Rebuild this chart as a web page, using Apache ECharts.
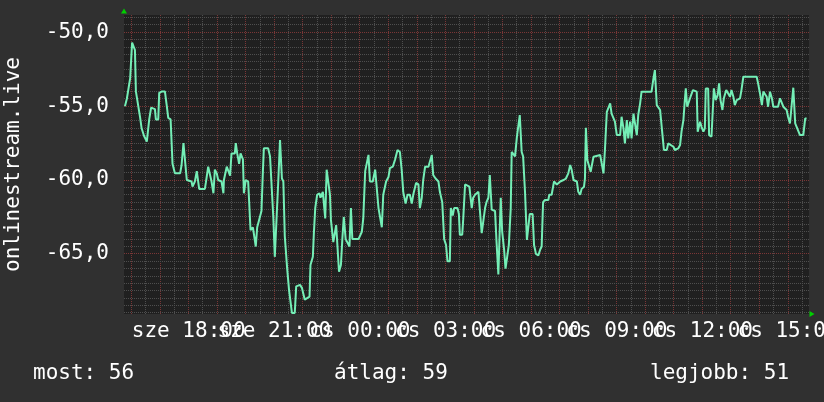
<!DOCTYPE html>
<html><head><meta charset="utf-8">
<script src="https://cdn.jsdelivr.net/npm/echarts@6/dist/echarts.min.js"></script>
<style>html,body{margin:0;padding:0;background:#303030}#c{width:824px;height:402px}</style>
</head><body><div id="c"></div>
<script>
// minutes since the start of the window (sze 15:44)
const times = [
2,6,9,13,17,21,23,25,29,34,
37,42,48,53,57,61,65,67,72,74,
80,86,90,93,98,102,107,118,121,125,
128,132,135,142,144,149,153,156,158,170,
172,177,181,184,188,191,195,198,205,209,
210,216,219,223,226,233,235,238,242,245,
250,252,256,261,266,271,275,277,280,284,
289,292,294,303,307,310,314,317,321,324,
328,332,335,338,343,347,353,359,362,366,
370,374,377,380,385,390,392,397,399,402,
406,411,413,418,423,426,429,433,435,440,
446,448,452,456,459,462,466,470,474,477,
480,493,496,500,503,507,510,514,517,523,
528,531,535,538,542,545,551,556,559,565,
570,575,580,584,587,592,596,601,605,608,
614,619,622,626,629,633,640,643,647,650,
655,661,664,669,673,677,680,685,687,691,
694,701,704,706,711,713,717,720,726,731,
734,738,741,745,748,752,755,759,762,766,
769,773,776,780,783,787,789,792,795,799,
802,806,809,813,815,818,822,826,829,832,
836,839,843,847,850,853,859,862,866,871,
875,878,881,885,892,894,899,904,910,913,
917,924,929,934,938,941,945,952,955,959,
962,967,969,971,974,978,981,984,987,1001,
1004,1008,1011,1015,1018,1022,1025,1029,1032,1036,
1043,1046,1050,1053,1057,1060,1064,1067,1071,1074,
1078,1081,1085,1088,1109,1113,1116,1120,1123,1127,
1130,1132,1135,1141,1144,1155,1158,1162,1165,1169,
1172,1176,1179,1181,1184,1188,1191,1196,1204,1206,
1209,1211,1214,1218,1221,1223,1228,1230,1235,1239,
1240,1244,1248,1251,1254,1258,1261,1266,1270,1274,
1277,1281,1284,1288,1295,1298,1302,1330,1333,1337,
1341,1344,1347,1351,1354,1358,1362,1365,1375,1379,
1383,1386,1390,1393,1396,1400,1404,1407,1411,1414,
1418,1421,1428,1432,1435
];
const values = [
-55.0,-54.5,-54.4,-53.1,-50.7,-50.7,-51.2,-54.0,-54.0,-55.8,
-56.5,-57.0,-57.4,-55.9,-55.1,-55.1,-55.2,-55.9,-55.9,-54.1,
-54.0,-54.0,-55.0,-55.8,-55.9,-58.9,-59.55,-59.55,-59.0,-57.5,
-57.5,-60.0,-60.1,-60.1,-60.45,-60.1,-59.4,-59.4,-60.6,-60.6,
-60.2,-59.1,-59.1,-60.1,-60.9,-59.3,-59.55,-60.0,-60.1,-60.9,
-60.0,-59.1,-59.0,-59.7,-58.2,-58.2,-57.5,-58.2,-58.9,-58.2,
-58.6,-60.9,-60.0,-60.1,-63.4,-63.2,-63.2,-64.5,-63.2,-63.3,
-62.1,-59.4,-57.85,-57.85,-58.4,-58.4,-62.6,-65.2,-62.4,-60.3,
-57.3,-59.9,-60.1,-63.8,-66.0,-67.45,-69.0,-69.0,-67.2,-67.2,
-67.1,-67.3,-67.3,-68.1,-68.0,-67.9,-65.75,-65.2,-63.7,-61.9,
-61.0,-60.9,-61.2,-60.8,-62.6,-59.3,-59.3,-61.0,-62.7,-64.2,
-63.05,-63.05,-66.2,-65.75,-64.0,-62.5,-64.0,-64.0,-64.5,-61.9,
-64.0,-64.0,-64.1,-63.5,-62.6,-59.4,-59.3,-58.3,-60.1,-60.1,
-59.3,-59.2,-61.9,-62.0,-63.2,-61.0,-60.1,-59.8,-59.2,-59.1,
-58.6,-57.97,-58.1,-59.4,-60.8,-61.6,-61.0,-61.0,-61.6,-61.0,
-60.2,-60.3,-61.9,-61.2,-60.0,-59.1,-59.1,-59.0,-58.3,-59.66,
-59.9,-60.1,-60.8,-61.5,-64.0,-64.4,-65.5,-65.5,-61.9,-62.4,
-61.9,-61.9,-62.3,-63.7,-63.7,-62.7,-60.3,-60.3,-60.45,-61.9,
-61.2,-61.0,-61.1,-60.8,-60.8,-63.6,-63.6,-61.9,-61.5,-61.2,
-59.66,-62.0,-62.0,-62.1,-64.1,-66.4,-66.4,-61.2,-63.5,-64.7,
-66.0,-66.0,-64.4,-61.9,-58.1,-58.0,-58.4,-57.06,-56.95,-55.6,
-58.1,-58.4,-60.8,-64.06,-64.0,-62.3,-62.3,-64.4,-65.0,-65.1,
-64.7,-64.5,-61.5,-61.35,-61.35,-61.0,-61.0,-60.1,-60.3,-60.2,
-60.1,-60.0,-59.9,-59.55,-58.99,-59.3,-60.0,-60.1,-60.8,-61.0,
-60.6,-60.45,-59.9,-56.46,-58.65,-58.76,-59.44,-59.44,-58.42,-58.31,
-58.4,-59.55,-57.97,-55.38,-55.3,-54.81,-55.5,-55.6,-56.05,-56.96,
-56.96,-55.72,-56.5,-57.52,-55.94,-57.18,-56.05,-57.18,-55.5,-55.5,
-56.96,-55.6,-54.81,-54.02,-54.02,-53.12,-52.56,-54.93,-55.04,-55.26,
-55.38,-56.96,-57.97,-57.97,-57.52,-57.75,-57.97,-58.08,-57.86,-57.63,
-56.73,-55.94,-54.59,-53.8,-55.04,-55.04,-54.36,-53.91,-54.02,-56.73,
-56.84,-56.05,-56.4,-56.73,-56.5,-53.8,-53.8,-56.96,-57.07,-56.96,
-53.8,-54.59,-54.25,-53.46,-54.59,-55.26,-54.47,-53.91,-54.02,-54.36,
-53.91,-54.36,-54.93,-54.59,-54.47,-53.91,-53.01,-53.01,-53.46,-54.14,
-54.93,-54.02,-54.14,-54.36,-55.04,-54.02,-54.47,-55.04,-55.04,-54.47,
-54.47,-55.04,-55.04,-55.26,-55.72,-56.17,-56.05,-53.75,-56.17,-56.4,
-56.4,-56.96,-56.96,-55.83,-55.83
];
const tickLabels = ['sze 18:00','sze 21:00','cs 00:00','cs 03:00','cs 06:00','cs 09:00','cs 12:00','cs 15:00'];
const tickTimes = [136,316,496,676,856,1036,1216,1396];
const yLabelValues = [-65,-60,-55,-50];
const legendTexts = ['most: 56','átlag: 59','legjobb: 51'];
const yName = 'onlinestream.live';

const FONT = 'DejaVu Sans Mono';
const X_MIN = 0, X_MAX = 1440, Y_MIN = -69.07, Y_MAX = -48.83;
const hourLines = []; for (let t = 16; t <= X_MAX; t += 60) hourLines.push(t);
const halfLines = []; for (let t = 46; t <= X_MAX; t += 60) halfLines.push(t);
const yMinor = []; for (let v = -69; v <= -49; v += 0.5) if (v % 5 !== 0) yMinor.push(v);
const labelsEven = tickTimes.filter((t, i) => i % 2 === 0);
const labelsOdd = tickTimes.filter((t, i) => i % 2 === 1);

const RED = '#7a3636', GREY = '#4e4e4e', ARROW = '#00d000';
const labelFmt = (v) => { const i = tickTimes.indexOf(v); return i >= 0 ? tickLabels[i] : ''; };
const xLabel = (vals) => ({ show: true, customValues: vals, margin: 7, hideOverlap: false,
  showMinLabel: true, showMaxLabel: true, color: '#ffffff', fontFamily: FONT, fontSize: 21, formatter: labelFmt });

// grid lines: [value, isMajor]
const vGridData = halfLines.map((t) => [t, 0]).concat(hourLines.map((t) => [t, 1]));
const hGridData = yMinor.map((v) => [v, 0]).concat(yLabelValues.map((v) => [v, 1]));
const gridStyle = (major) => ({ stroke: major ? RED : GREY, lineWidth: 1, lineDash: [1, 1], fill: null });

const chart = echarts.init(document.getElementById('c'), null, { renderer: 'canvas' });
chart.setOption({
  animation: false,
  backgroundColor: '#303030',
  grid: { left: 124, right: 15, top: 15, bottom: 88, show: true, backgroundColor: '#202020', borderWidth: 0, containLabel: false, outerBoundsMode: 'none' },
  title: legendTexts.map((t, i) => ({
    text: t, left: [33, 334, 650][i], top: 363, padding: 0,
    textStyle: { color: '#ffffff', fontFamily: FONT, fontSize: 21, fontWeight: 'normal', lineHeight: 21 }
  })),
  xAxis: [
    { type: 'value', min: X_MIN, max: X_MAX, position: 'bottom',
      axisLine: { show: false }, axisTick: { show: false }, splitLine: { show: false },
      axisLabel: xLabel(labelsEven) },
    { type: 'value', min: X_MIN, max: X_MAX, position: 'bottom',
      axisLine: { show: true, symbol: ['none', 'triangle'], symbolSize: [6, 5], symbolOffset: [0, 3], lineStyle: { color: ARROW, width: 0 } },
      axisTick: { show: false }, splitLine: { show: false },
      axisLabel: xLabel(labelsOdd) }
  ],
  yAxis: [
    { type: 'value', min: Y_MIN, max: Y_MAX, position: 'left',
      name: yName, nameLocation: 'middle', nameGap: 100, nameMoveOverlap: false,
      nameTextStyle: { color: '#ffffff', fontFamily: FONT, fontSize: 21 },
      axisLine: { show: false }, axisTick: { show: false }, splitLine: { show: false },
      axisLabel: { show: true, customValues: yLabelValues, margin: 15, color: '#ffffff', fontFamily: FONT, fontSize: 21,
        showMinLabel: true, showMaxLabel: true,
        formatter: (v) => v.toFixed(1).replace('.', ',') } },
    { type: 'value', min: Y_MIN, max: Y_MAX, position: 'left',
      axisLine: { show: true, symbol: ['none', 'triangle'], symbolSize: [6, 5], symbolOffset: [0, 4], lineStyle: { color: ARROW, width: 0 } },
      axisTick: { show: false }, splitLine: { show: false },
      axisLabel: { show: false } }
  ],
  series: [
    { type: 'custom', xAxisIndex: 0, yAxisIndex: 0, silent: true, z: 1,
      data: vGridData, encode: { x: 0 },
      renderItem: (params, api) => {
        const v = api.value(0), major = api.value(1);
        const a = api.coord([v, Y_MIN]), b = api.coord([v, Y_MAX]);
        const x = Math.floor(a[0]) + 0.5;
        return { type: 'line', shape: { x1: x, y1: a[1], x2: x, y2: b[1] }, style: gridStyle(major), silent: true };
      } },
    { type: 'custom', xAxisIndex: 0, yAxisIndex: 0, silent: true, z: 1,
      data: hGridData.map((d) => [X_MIN, d[0], d[1]]), encode: { x: 0, y: 1 },
      renderItem: (params, api) => {
        const v = api.value(1), major = api.value(2);
        const a = api.coord([X_MIN, v]), b = api.coord([X_MAX, v]);
        const y = Math.floor(a[1]) + 0.5;
        return { type: 'line', shape: { x1: a[0], y1: y, x2: b[0], y2: y }, style: gridStyle(major), silent: true };
      } },
    { type: 'line', xAxisIndex: 0, yAxisIndex: 0,
      data: times.map((t, i) => [t, values[i]]),
      showSymbol: false, symbol: 'none',
      lineStyle: { color: '#74eeb6', width: 2 },
      z: 6 }
  ]
});
</script></body></html>
